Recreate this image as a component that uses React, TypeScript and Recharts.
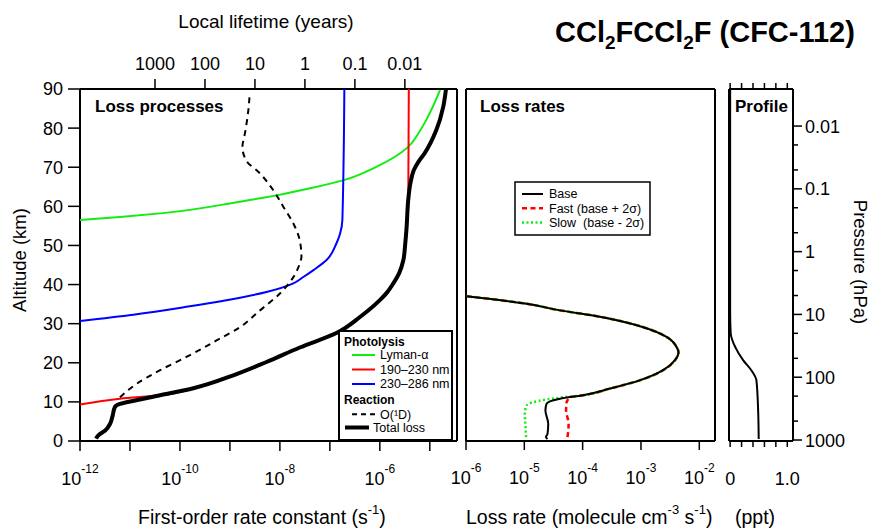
import type { JSX } from "react";
import { Scatter, ScatterChart, XAxis, YAxis } from "recharts";

const FONT = '"Liberation Sans", Arial, Helvetica, sans-serif';
const SECONDS_PER_YEAR = 3.156e7;
const GREEN = "#10ee10";
const RED = "#ff0000";
const BLUE = "#0000ff";

// altitude ticks (km) and axis ticks
const altTicks = [0, 10, 20, 30, 40, 50, 60, 70, 80, 90];
const rateTicks = [1e-12, 1e-11, 1e-10, 1e-9, 1e-8, 1e-7, 1e-6, 1e-5];
const lifetimeYears = [1000, 100, 10, 1, 0.1, 0.01];
const lossTicks = [1e-6, 1e-5, 1e-4, 1e-3, 1e-2];
const profileTicks = [0, 0.2, 0.4, 0.6, 0.8, 1.0];
const pressureMajor = [0.01, 0.1, 1, 10, 100, 1000];
const pressureMinor = [0.02, 0.05, 0.2, 0.5, 2, 5, 20, 50, 200, 500];

// Loss processes: first-order rate constants (s-1) vs altitude (km)
const lymanAlt = [56.5, 57.3, 58.2, 61.2, 62.8, 64.6, 66.7, 70.1, 75.2, 78.5, 82.1, 86.0, 89.7];
const lymanRate = [1e-12, 6.3e-12, 4e-11, 1.6e-9, 8.5e-9, 4e-8, 1.9e-7, 8.5e-7, 3.7e-6, 5.8e-6, 8.5e-6, 1.2e-5, 1.6e-5];

const uv190Alt = [9.3, 10.8, 11.7, 13.5, 16.8, 20.2, 23.9, 27.6, 31.7, 36.0, 38.0, 40.3, 43.0, 46.2, 50.0, 53.9, 60.0, 90.0];
const uv190Rate = [1e-12, 6.3e-12, 4e-11, 1.9e-10, 1.2e-9, 5.4e-9, 2.5e-8, 1.35e-7, 4e-7, 1e-6, 1.4e-6, 1.85e-6, 2.45e-6, 2.9e-6, 3.2e-6, 3.4e-6, 3.7e-6, 3.8e-6];

const uv230Alt = [30.7, 32.3, 34.3, 36.0, 38.1, 40.3, 42.0, 43.7, 46.2, 50.5, 53.0, 56.5, 90.0];
const uv230Rate = [1e-12, 1.17e-11, 1.35e-10, 8.5e-10, 5.4e-9, 1.86e-8, 3.0e-8, 4.7e-8, 8.5e-8, 1.35e-7, 1.6e-7, 1.78e-7, 1.95e-7];

const o1dAlt = [11.2, 14.6, 18.1, 21.5, 25.7, 29.1, 33.4, 37.7, 41.9, 45.4, 47.1, 51.3, 55.6, 59.9, 64.1, 68.4, 71.8, 75.2, 78.7, 83.8, 89.0];
const o1dRate = [6.3e-12, 1.35e-11, 4e-11, 1.35e-10, 5.4e-10, 1.58e-9, 4e-9, 1e-8, 1.86e-8, 2.5e-8, 2.7e-8, 2.5e-8, 1.86e-8, 1.17e-8, 7.4e-9, 4e-9, 2.1e-9, 1.78e-9, 2e-9, 2.3e-9, 2.5e-9];

const totalAlt = [0.6, 1.4, 2.7, 4.4, 6.5, 8.7, 9.5, 9.9, 11.7, 13.5, 16.8, 20.2, 23.9, 27.6, 31.7, 36.0, 38.0, 40.3, 43.0, 46.2, 50.0, 53.9, 62.4, 66.0, 69.3, 71.5, 73.5, 79.5, 85.5, 89.8];
const totalRate = [2.1e-12, 2.3e-12, 3.2e-12, 4e-12, 4.5e-12, 5e-12, 6.3e-12, 8.5e-12, 4e-11, 1.86e-10, 1.17e-9, 5.4e-9, 2.5e-8, 1.35e-7, 4e-7, 1e-6, 1.4e-6, 1.86e-6, 2.45e-6, 2.95e-6, 3.2e-6, 3.4e-6, 3.75e-6, 4.1e-6, 4.8e-6, 6.0e-6, 7.8e-6, 1.35e-5, 1.86e-5, 2.1e-5];

// Loss rates (molecule cm-3 s-1): shared upper part, then the three lower branches
const upperAlt = [11.7, 13.4, 15.5, 18.1, 20.6, 22.7, 24.0, 26.6, 29.1, 32.1, 33.4, 35.1, 37.0];
const upperLoss = [1.02e-4, 2.95e-4, 9.5e-4, 2.4e-3, 3.8e-3, 4.4e-3, 4.1e-3, 2.75e-3, 1.1e-3, 1.5e-4, 4.1e-5, 1.1e-5, 1.02e-6];
const baseLowAlt = [0.5, 1.0, 1.8, 4.4, 7.8, 9.5, 10.8];
const baseLowLoss = [2.5e-5, 2.35e-5, 2.5e-5, 2.57e-5, 2.3e-5, 2.4e-5, 4.1e-5];
const fastLowAlt = [1.0, 4.4, 7.8, 9.5, 11.2];
const fastLowLoss = [5.5e-5, 5.75e-5, 5.2e-5, 5.25e-5, 6.0e-5];
const slowLowAlt = [1.0, 3.5, 7.0, 9.1, 10.6, 11.2];
const slowLowLoss = [1.07e-5, 1.05e-5, 1.02e-5, 1.1e-5, 2.4e-5, 4.8e-5];

// Profile (ppt)
const profileAlt = [0.5, 7.8, 15.5, 18.1, 20.6, 24.0, 27.5, 32.6, 90.0];
const profileVal = [0.5, 0.49, 0.46, 0.37, 0.23, 0.09, 0.01, 0, 0];

type Pt = { x: number; y: number };
const toPoints = (alt: number[], val: number[]): Pt[] => alt.map((a, i) => ({ x: val[i], y: a }));

const processSeries = [
	{ color: GREEN, dash: undefined, data: toPoints(lymanAlt, lymanRate), name: "Lyman-α", width: 2 },
	{ color: RED, dash: undefined, data: toPoints(uv190Alt, uv190Rate), name: "190–230 nm", width: 2 },
	{ color: BLUE, dash: undefined, data: toPoints(uv230Alt, uv230Rate), name: "230–286 nm", width: 2 },
	{ color: "#000", dash: "6 5", data: toPoints(o1dAlt, o1dRate), name: "O(¹D)", width: 2 },
	{ color: "#000", dash: undefined, data: toPoints(totalAlt, totalRate), name: "Total loss", width: 4 },
];

const lossSeries = [
	{ color: RED, dash: "5 3.5", data: toPoints([...fastLowAlt, ...upperAlt], [...fastLowLoss, ...upperLoss]), name: "Fast (base + 2σ)", width: 2.5 },
	{ color: GREEN, dash: "2 2.5", data: toPoints([...slowLowAlt, ...upperAlt], [...slowLowLoss, ...upperLoss]), name: "Slow  (base - 2σ)", width: 2.5 },
	{ color: "#000", dash: undefined, data: toPoints([...baseLowAlt, ...upperAlt], [...baseLowLoss, ...upperLoss]), name: "Base", width: 2 },
];
const lossLegend = [lossSeries[2], lossSeries[0], lossSeries[1]];
const profileData = toPoints(profileAlt, profileVal);

const AXIS_LINE = { stroke: "#000", strokeWidth: 2 };
const TICK_LINE = { stroke: "#000", strokeWidth: 1.5 };
const NoDot = () => null;
const NoTick = () => <g />;

const powerTick = (step: number) =>
	function PowerTick({ x, y, payload }: any) {
		const exp = Math.round(Math.log10(payload.value));
		if (exp % step !== 0) return <g />;
		return (
			<text fill="#000" fontSize={18} textAnchor="middle" x={x} y={y + 32}>
				10<tspan dy={-12} fontSize={12}>{exp}</tspan>
			</text>
		);
	};

function LifetimeTick({ x, y, payload }: any) {
	const years = Number((1 / (payload.value * SECONDS_PER_YEAR)).toPrecision(2));
	return (
		<text fill="#000" fontSize={18} textAnchor="middle" x={x} y={y - 7}>
			{String(years)}
		</text>
	);
}

function ProfileTick({ x, y, payload }: any) {
	const v = payload.value;
	if (v !== 0 && v !== 1) return <g />;
	return (
		<text fill="#000" fontSize={18} textAnchor="middle" x={x} y={y + 36}>
			{v === 0 ? "0" : "1.0"}
		</text>
	);
}

function PressureTick({ x, y, payload }: any) {
	const major = pressureMajor.includes(payload.value);
	return (
		<g>
			<line stroke="#000" strokeWidth={1.5} x1={x} x2={x + (major ? 9 : 5)} y1={y} y2={y} />
			{major && (
				<text fill="#000" fontSize={18} x={x + 12} y={y + 6.5}>
					{String(payload.value)}
				</text>
			)}
		</g>
	);
}

const rateDomain = [1e-12, 3.5e-5];
const lossDomain = [1e-6, 1.86e-2];

export default function App(): JSX.Element {
	const pressureTicks = [...pressureMajor, ...pressureMinor].sort((a, b) => a - b);
	return (
		<div style={{ background: "#fff", fontFamily: FONT, height: 529, left: 0, position: "absolute", top: 0, width: 878 }}>
			<div style={{ left: 0, position: "absolute", top: 0 }}>
				<ScatterChart height={529} margin={{ bottom: 0, left: 0, right: 0, top: 0 }} width={460}>
					<XAxis allowDataOverflow axisLine={AXIS_LINE} dataKey="x" domain={rateDomain} height={88} interval={0} scale="log" tick={powerTick(2)} tickLine={TICK_LINE} tickSize={10} ticks={rateTicks} type="number" xAxisId="k" />
					<XAxis allowDataOverflow axisLine={AXIS_LINE} dataKey="x" domain={rateDomain} height={89} interval={0} orientation="top" scale="log" tick={LifetimeTick} tickLine={TICK_LINE} tickSize={10} ticks={lifetimeYears.map((t) => 1 / (t * SECONDS_PER_YEAR))} type="number" xAxisId="life" />
					<YAxis allowDataOverflow axisLine={AXIS_LINE} dataKey="y" domain={[0, 90]} interval={0} tick={{ fill: "#000", fontSize: 18 }} tickLine={TICK_LINE} tickMargin={5} tickSize={12} ticks={altTicks} type="number" width={80} yAxisId="alt" />
					<YAxis axisLine={AXIS_LINE} domain={[0, 90]} orientation="right" tick={false} tickLine={false} type="number" width={3} yAxisId="edge" />
					{/* the lifetime axis is the same scale; bind the total loss to it without drawing anything */}
					<Scatter data={processSeries[4].data} isAnimationActive={false} shape={NoDot} xAxisId="life" yAxisId="alt" />
					{processSeries.map((s) => (
						<Scatter data={s.data} isAnimationActive={false} key={s.name} line={{ stroke: s.color, strokeDasharray: s.dash, strokeWidth: s.width }} lineJointType="monotoneY" lineType="joint" shape={NoDot} xAxisId="k" yAxisId="alt" />
					))}
				</ScatterChart>
			</div>
			<div style={{ left: 440, position: "absolute", top: 0 }}>
				<ScatterChart height={529} margin={{ bottom: 0, left: 0, right: 0, top: 0 }} width={280}>
					<XAxis allowDataOverflow axisLine={AXIS_LINE} dataKey="x" domain={lossDomain} height={88} interval={0} scale="log" tick={powerTick(1)} tickLine={TICK_LINE} tickSize={9} ticks={lossTicks} type="number" xAxisId="l" />
					<XAxis axisLine={AXIS_LINE} domain={lossDomain} height={89} orientation="top" scale="log" tick={false} tickLine={false} type="number" xAxisId="top" />
					<YAxis allowDataOverflow axisLine={AXIS_LINE} dataKey="y" domain={[0, 90]} tick={false} tickLine={false} type="number" width={26} yAxisId="alt" />
					<YAxis axisLine={AXIS_LINE} domain={[0, 90]} orientation="right" tick={false} tickLine={false} type="number" width={5} yAxisId="edge" />
					{lossSeries.map((s) => (
						<Scatter data={s.data} isAnimationActive={false} key={s.name} line={{ stroke: s.color, strokeDasharray: s.dash, strokeWidth: s.width }} lineJointType="monotoneY" lineType="joint" shape={NoDot} xAxisId="l" yAxisId="alt" />
					))}
				</ScatterChart>
			</div>
			<div style={{ left: 720, position: "absolute", top: 0 }}>
				<ScatterChart height={529} margin={{ bottom: 0, left: 0, right: 0, top: 0 }} width={158}>
					<XAxis allowDataOverflow axisLine={AXIS_LINE} dataKey="x" domain={[-0.02, 1.1]} height={88} interval={0} tick={ProfileTick} tickLine={TICK_LINE} tickSize={6} ticks={profileTicks} type="number" xAxisId="v" />
					<XAxis allowDataOverflow axisLine={AXIS_LINE} dataKey="x" domain={[-0.02, 1.1]} height={89} interval={0} orientation="top" tick={NoTick} tickLine={TICK_LINE} tickSize={6} ticks={profileTicks} type="number" xAxisId="top" />
					<YAxis allowDataOverflow axisLine={AXIS_LINE} dataKey="y" domain={[0, 90]} tick={false} tickLine={false} type="number" width={9} yAxisId="alt" />
					<YAxis allowDataOverflow axisLine={AXIS_LINE} domain={[0.00257, 1037]} interval={0} orientation="right" reversed scale="log" tick={PressureTick} tickLine={false} tickMargin={0} tickSize={0} ticks={pressureTicks} type="number" width={85} yAxisId="p" />
					<Scatter data={profileData} isAnimationActive={false} shape={NoDot} xAxisId="top" yAxisId="alt" />
					<Scatter data={profileData} isAnimationActive={false} line={{ stroke: "#000", strokeWidth: 2 }} lineJointType="monotoneY" lineType="joint" shape={NoDot} xAxisId="v" yAxisId="alt" />
				</ScatterChart>
			</div>
			<svg height={529} style={{ left: 0, pointerEvents: "none", position: "absolute", top: 0 }} width={878}>
				<text fontSize={29} fontWeight="bold" x={555} y={42}>
					CCl<tspan dy={7} fontSize={19}>2</tspan>
					<tspan dy={-7}>FCCl</tspan>
					<tspan dy={7} fontSize={19}>2</tspan>
					<tspan dy={-7}>F (CFC-112)</tspan>
				</text>
				<text fontSize={19} textAnchor="middle" x={266} y={28}>Local lifetime (years)</text>
				<text fontSize={19.5} x={138} y={524}>
					First-order rate constant (s<tspan dy={-10} fontSize={13}>-1</tspan>
					<tspan dy={10}>)</tspan>
				</text>
				<text fontSize={19.5} x={466} y={524}>
					Loss rate (molecule cm<tspan dy={-10} fontSize={13}>-3</tspan>
					<tspan dy={10}> s</tspan>
					<tspan dy={-10} fontSize={13}>-1</tspan>
					<tspan dy={10}>)</tspan>
				</text>
				<text fontSize={19.5} x={735} y={524}>(ppt)</text>
				<text fontSize={18.5} textAnchor="middle" transform="translate(26,260) rotate(-90)">Altitude (km)</text>
				<text fontSize={18.5} textAnchor="middle" transform="translate(854,262) rotate(90)">Pressure (hPa)</text>
				<text fontSize={17} fontWeight="bold" x={95} y={112}>Loss processes</text>
				<text fontSize={17} fontWeight="bold" x={480} y={112}>Loss rates</text>
				<text fontSize={17} fontWeight="bold" x={735} y={112}>Profile</text>

				<g transform="translate(338,330)">
					<rect fill="#fff" height={109} stroke="#000" strokeWidth={2} width={113} x={1} y={1} />
					<text fontSize={12} fontWeight="bold" x={6} y={16}>Photolysis</text>
					{processSeries.slice(0, 3).map((s, i) => (
						<g key={s.name}>
							<line stroke={s.color} strokeWidth={2} x1={14} x2={37} y1={25 + i * 14.5} y2={25 + i * 14.5} />
							<text fontSize={12.5} x={42} y={29.3 + i * 14.5}>{s.name}</text>
						</g>
					))}
					<text fontSize={12} fontWeight="bold" x={6} y={73.6}>Reaction</text>
					<line stroke="#000" strokeDasharray="5 4" strokeWidth={2} x1={14} x2={37} y1={84.3} y2={84.3} />
					<text fontSize={12.5} x={42} y={88.6}>{processSeries[3].name}</text>
					<line stroke="#000" strokeWidth={4} x1={7} x2={31} y1={97.5} y2={97.5} />
					<text fontSize={12.5} x={35} y={101.8}>{processSeries[4].name}</text>
				</g>

				<g transform="translate(515,182)">
					<rect fill="#fff" height={53} stroke="#000" strokeWidth={1.5} width={135} x={0} y={0} />
					{lossLegend.map((s, i) => (
						<g key={s.name}>
							<line stroke={s.color} strokeDasharray={s.dash} strokeWidth={s.width} x1={7} x2={28} y1={12 + i * 14.2} y2={12 + i * 14.2} />
							<text fontSize={12.5} style={{ whiteSpace: "pre" }} x={34} y={16.3 + i * 14.2}>{s.name}</text>
						</g>
					))}
				</g>
			</svg>
		</div>
	);
}
